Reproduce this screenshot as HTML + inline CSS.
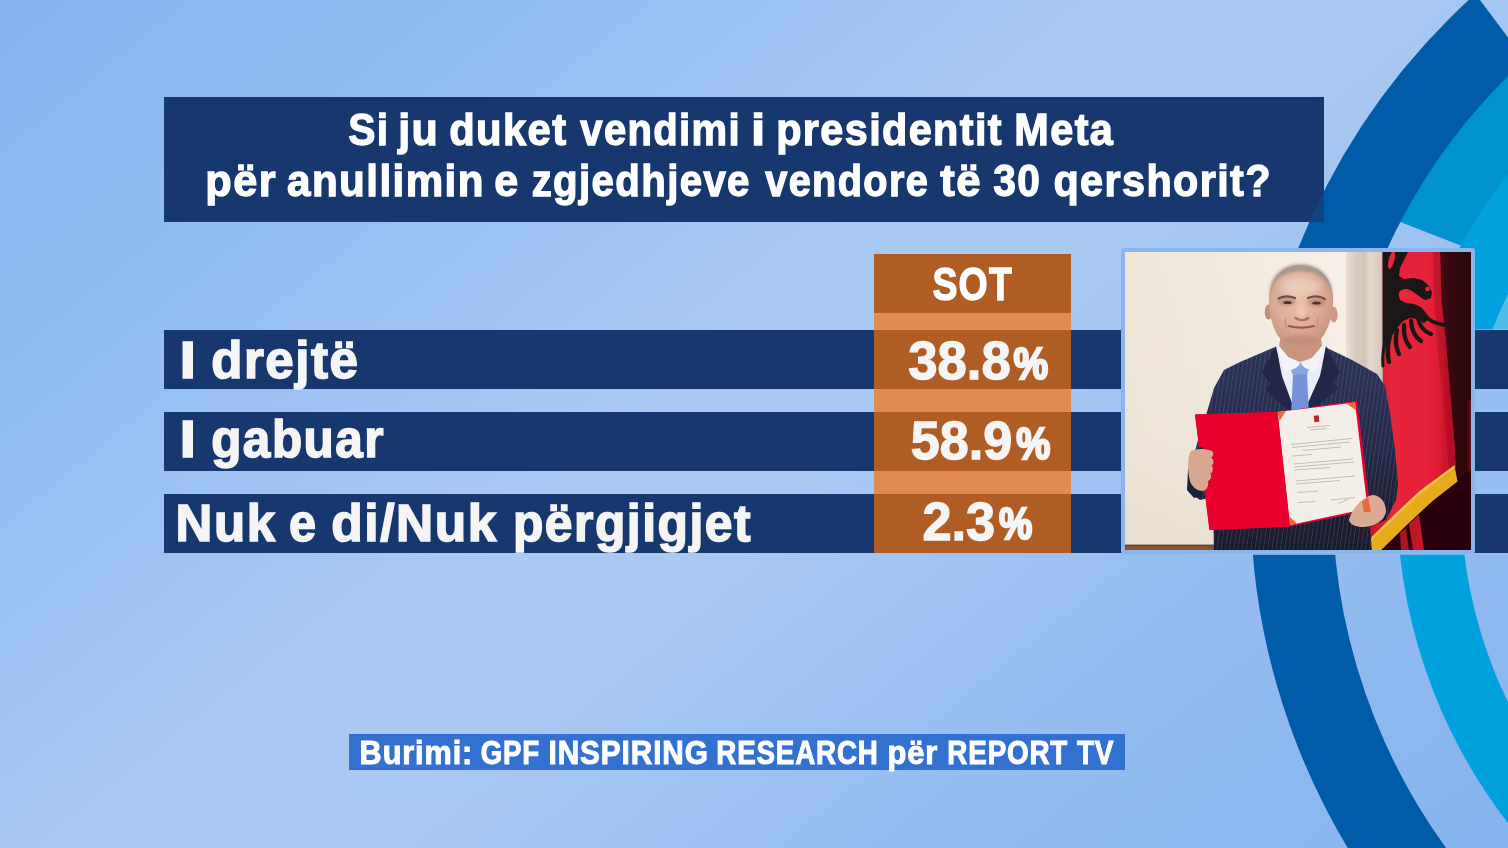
<!DOCTYPE html>
<html lang="sq">
<head>
<meta charset="utf-8">
<title>Sondazh</title>
<style>
html,body{margin:0;padding:0;}
html{background:#9cc1f1;}
body{width:1508px;height:848px;overflow:hidden;position:relative;
  font-family:"Liberation Sans",sans-serif;font-weight:bold;color:#fff;
  background:#9cc1f1;}
#bg{position:absolute;left:0;top:0;width:1508px;height:848px;
  background:linear-gradient(141deg,#84b4f0 0%,#97bff1 25%,#a9c9f2 46%,#a9c9f2 54%,#96bdf0 75%,#86b3ee 100%);}
#arcs{position:absolute;left:0;top:0;width:1508px;height:848px;}
.abs{position:absolute;}
.navy{background:#17386e;}
.t{position:absolute;left:0;top:0;white-space:nowrap;transform-origin:0 0;line-height:1;
  -webkit-text-stroke-color:currentColor;}
.w{position:absolute;left:0;top:0;transform-origin:0 0;white-space:nowrap;}
</style>
</head>
<body>

<div id="bg"></div>
<svg id="arcs" viewBox="0 0 1508 848">
  <defs>
    <clipPath id="cA"><path d="M1396 -112.8 L2040 752 L2040 1500 L0 1500 L0 -112.8 Z"/></clipPath>
    <clipPath id="cB"><path d="M1276.9 174 L1585.4 294 L1585.4 -100 L1276.9 -100 Z"/></clipPath>
    <clipPath id="cC"><rect x="1400" y="0" width="108" height="330"/></clipPath>
  </defs>
  <circle cx="1928" cy="498" r="467.5" fill="#4dbce6" clip-path="url(#cC)"/>
  <circle cx="1928" cy="498" r="499" fill="none" stroke="#00a1de" stroke-width="64"/>
  <circle cx="1928" cy="498" r="563.5" fill="none" stroke="#0091cf" stroke-width="66" clip-path="url(#cB)"/>
  <circle cx="1928" cy="498" r="636.5" fill="none" stroke="#005ca9" stroke-width="82" clip-path="url(#cA)"/>
  <rect x="1121" y="329.5" width="387" height="225.25" fill="#97bff1"/>
</svg>

<div class="abs navy" style="left:164px;top:97px;width:1160px;height:125px"></div>
<svg class="abs" id="ov" style="left:0;top:0;width:1508px;height:848px" viewBox="0 0 1508 848">
  <defs><clipPath id="cT"><rect x="164" y="97" width="1160" height="125"/></clipPath></defs>
  <circle cx="1928" cy="498" r="636.5" fill="none" stroke="#005ca9" stroke-width="82" opacity=".3" clip-path="url(#cT)"/>
</svg>
<div class="abs navy" style="left:164px;top:329.5px;width:1344px;height:59.25px"></div>
<div class="abs navy" style="left:164px;top:411.5px;width:1344px;height:59.25px"></div>
<div class="abs navy" style="left:164px;top:493.5px;width:1344px;height:59px"></div>

<div class="abs" style="left:873.5px;top:253.75px;width:197px;height:298.75px;background:#e08b52"></div>
<div class="abs" style="left:873.5px;top:253.75px;width:197px;height:59.25px;background:#b05c25"></div>
<div class="abs" style="left:873.5px;top:329.5px;width:197px;height:59.25px;background:#b05c25"></div>
<div class="abs" style="left:873.5px;top:411.5px;width:197px;height:59.25px;background:#b05c25"></div>
<div class="abs" style="left:873.5px;top:493.5px;width:197px;height:59px;background:#b05c25"></div>

<div class="abs" style="left:349.25px;top:734px;width:775.75px;height:35.75px;background:#3371d1"></div>

<div class="abs" id="frame" style="left:1121px;top:248px;width:354px;height:305.5px;background:#8ab6ee;border-radius:3px"></div>

<svg class="abs" id="photo" style="left:1125px;top:252px;width:346px;height:297.5px" viewBox="1125 252 346 297.5" preserveAspectRatio="none">
  <defs>
    <linearGradient id="pbg" x1="0" y1="0" x2="1" y2="0">
      <stop offset="0" stop-color="#efe6d9"/><stop offset=".35" stop-color="#f3ebe0"/><stop offset=".62" stop-color="#f7f0e8"/><stop offset="1" stop-color="#f2eae0"/>
    </linearGradient>
    <linearGradient id="pbgv" x1="0" y1="0" x2="0" y2="1"><stop offset="0" stop-color="#e2d6c6" stop-opacity="0"/><stop offset=".6" stop-color="#e2d6c6" stop-opacity=".12"/><stop offset="1" stop-color="#e0d2c2" stop-opacity=".45"/></linearGradient>
    <linearGradient id="pwall" x1="0" y1="0" x2="1" y2="0">
      <stop offset="0" stop-color="#ebe2d7"/><stop offset=".22" stop-color="#d9cdc0"/><stop offset=".5" stop-color="#d3c6b8"/><stop offset=".62" stop-color="#e3d9cd"/><stop offset=".9" stop-color="#d8ccbf"/><stop offset="1" stop-color="#b9a898"/>
    </linearGradient>
    <linearGradient id="pflag" x1="0" y1="0" x2="1" y2="0">
      <stop offset="0" stop-color="#c4142a"/><stop offset=".3" stop-color="#e6263a"/><stop offset=".75" stop-color="#e41f36"/><stop offset="1" stop-color="#b41026"/>
    </linearGradient>
    <linearGradient id="pcurt" x1="0" y1="0" x2="1" y2="0">
      <stop offset="0" stop-color="#4a0c16"/><stop offset=".4" stop-color="#35080f"/><stop offset="1" stop-color="#2c060c"/>
    </linearGradient>
    <radialGradient id="pskin" cx=".45" cy=".38" r=".7">
      <stop offset="0" stop-color="#e9c4b0"/><stop offset=".55" stop-color="#dcab95"/><stop offset="1" stop-color="#c08b76"/>
    </radialGradient>
    <linearGradient id="psuit" x1="0" y1="0" x2="0" y2="1">
      <stop offset="0" stop-color="#2d3458"/><stop offset=".45" stop-color="#272b4a"/><stop offset=".8" stop-color="#1d1f33"/><stop offset="1" stop-color="#191a28"/>
    </linearGradient>
    <pattern id="pstripe" width="4.2" height="8" patternUnits="userSpaceOnUse" patternTransform="rotate(8)">
      <rect width="4.2" height="8" fill="none"/><rect x="0" width="0.7" height="8" fill="#8890c0" opacity=".3"/>
    </pattern>
    <filter id="pb1" x="-5%" y="-5%" width="110%" height="110%"><feGaussianBlur stdDeviation="0.7"/></filter>
    <filter id="pb2" x="-20%" y="-20%" width="140%" height="140%"><feGaussianBlur stdDeviation="1.6"/></filter>
    <filter id="pb3" x="-30%" y="-30%" width="160%" height="160%"><feGaussianBlur stdDeviation="3"/></filter>
  </defs>
  <!-- wall -->
  <rect x="1125" y="252" width="346" height="297.5" fill="url(#pbg)"/>
  <rect x="1125" y="252" width="225" height="297.5" fill="url(#pbgv)"/>
  <rect x="1346" y="252" width="38" height="297.5" fill="url(#pwall)" filter="url(#pb1)"/>
  <!-- floor -->
  <rect x="1125" y="545.3" width="90" height="5" fill="#8a5330"/>
  <rect x="1125" y="544.6" width="90" height="1.6" fill="#6f4220"/>
  <!-- curtain + flag -->
  <rect x="1436" y="252" width="36" height="298" fill="url(#pcurt)"/>
  <rect x="1468.5" y="400" width="3" height="150" fill="#a8162a" opacity=".45" filter="url(#pb1)"/>
  <g filter="url(#pb1)">
    <path d="M1382.6 250 L1440 250 L1441.500 300 L1446 342 L1450 390 L1454 437 L1456 468 L1419.300 495 L1394.200 519 L1370.400 541.500 L1366 552 L1371 470 L1383 420 Z" fill="url(#pflag)"/>
    <path d="M1440 250 L1441.500 300 L1446 342 L1450 390 L1454 437 L1456 468 L1449 472 L1444 410 L1437 340 L1434 290 L1433 250 Z" fill="#a80c22" opacity=".5"/>
    <!-- dark area below fringe -->
    <path d="M1457 478 L1472 470 L1472 552 L1378 552 L1390 540 L1420 512 Z" fill="#2a060a"/>
    <path d="M1409 524 L1419 515 L1424 550 L1413 550 Z" fill="#c0182c"/>
    <path d="M1400 533 L1406 528 L1409 550 L1401 550 Z" fill="#a81424"/>
    <!-- fringe -->
    <path d="M1455 468.500 L1457.500 481.500 L1431.800 501.500 L1406.700 525 L1381.700 549.600 L1379 552 L1366 552 L1370.400 541.400 L1394.200 518.900 L1419.300 495 Z" fill="#e6ac1c"/>
    <path d="M1455 468.500 L1419.300 495 L1394.200 518.900 L1370.400 541.400 L1372 536.500 L1394 515 L1419 491.500 L1454.500 465 Z" fill="#f0c23a"/>
  </g>
  <!-- eagle -->
  <g fill="#1e1617" filter="url(#pb1)">
    <path d="M1382.6 250 L1409 250 L1405 258 L1400 268 L1399 276 L1404 279 L1414 278 L1422 280 L1428 285 L1432 292 L1431 298 L1426 300 L1419 298 L1411 293 L1404 291 L1400 294 L1400 300 L1406 303 L1414 304 L1421 307 L1426 313 L1428 320 L1424 323 L1417 319 L1410 318 L1403 321 L1397 328 L1392 336 L1388 344 L1383.500 350 L1382.6 350 Z"/>
  </g>
  <g fill="none" stroke="#1e1617" stroke-linecap="round" filter="url(#pb1)">
    <path d="M1424 314 Q1430 323 1444 325" stroke-width="3.8"/>
    <path d="M1418 318 Q1420 330 1431 334" stroke-width="4.3"/>
    <path d="M1411 321 Q1412 335 1421 341" stroke-width="4.3"/>
    <path d="M1404 325 Q1403 339 1410 347" stroke-width="4.3"/>
    <path d="M1397 330 Q1394 344 1399 354" stroke-width="4.3"/>
    <path d="M1390 336 Q1386 350 1389 362" stroke-width="4.3"/>
    <path d="M1384.500 344 Q1382 356 1383 366" stroke-width="3"/>
  </g>
  <g fill="#e8283e" filter="url(#pb1)">
    <ellipse cx="1391.500" cy="260" rx="2.800" ry="9" transform="rotate(14 1391.500 260)"/>
    <path d="M1400 291 Q1405 287.500 1411 290.500 Q1418 294.500 1425 301 Q1417 300 1411 297.500 Q1405 302.500 1400 299 Q1397.500 295 1400 291 Z"/>
    <circle cx="1427.500" cy="289" r="2.300"/>
  </g>
  <!-- man: suit -->
  <g filter="url(#pb1)">
    <path d="M1275 347 L1240 362 L1224 370 L1214 388 L1207 412 L1198 440 L1190 470 L1189 492 L1200 500 L1213 497 L1214 552 L1372 552 L1370 527 L1386 520 L1396 500 L1398 484 L1395 450 L1390 413 L1385 386 L1377 374 L1352 360 L1325 347 L1318 370 L1300 392 L1284 372 Z" fill="url(#psuit)"/>
    <path d="M1275 347 L1240 362 L1224 370 L1214 388 L1207 412 L1198 440 L1190 470 L1189 492 L1200 500 L1213 497 L1214 552 L1372 552 L1370 527 L1386 520 L1396 500 L1398 484 L1395 450 L1390 413 L1385 386 L1377 374 L1352 360 L1325 347 L1318 370 L1300 392 L1284 372 Z" fill="url(#pstripe)"/>
    <!-- shirt -->
    <path d="M1277 346 L1283 340 L1322 340 L1326 346 L1322 372 L1310 400 L1304 414 L1294 414 L1288 396 L1280 372 Z" fill="#e9edf6"/>
    <!-- lapels -->
    <path d="M1276 346 L1262 372 L1270 384 L1266 390 L1292 414 L1296 414 L1282 376 Z" fill="#23284a"/>
    <path d="M1326 346 L1340 372 L1333 382 L1338 388 L1308 414 L1303 414 L1320 376 Z" fill="#23284a"/>
    <!-- tie -->
    <path d="M1289 364 L1311 363 L1307 374 L1309 414 L1291 414 L1293 375 Z" fill="#7392da"/>
    <path d="M1289 364 L1311 363 L1307 374 L1293 375 Z" fill="#8aa4e4"/>
  </g>
  <!-- neck + head -->
  <g filter="url(#pb1)">
    <path d="M1282 330 L1320 330 L1322 346 L1312 358 L1300 362 L1288 357 L1279 346 Z" fill="#c9957e"/>
    <path d="M1279 346 L1288 357 L1300 364 L1296 368 L1286 372 L1278 352 Z" fill="#f1f3f9"/>
    <path d="M1322 346 L1312 358 L1301 364 L1305 368 L1316 372 L1324 352 Z" fill="#f1f3f9"/>
    <ellipse cx="1268.500" cy="312" rx="3.800" ry="7.500" fill="#c58d77"/>
    <ellipse cx="1333.800" cy="314.500" rx="3.800" ry="8" fill="#cf9a84"/>
    <path d="M1300.500 265 C1319 265 1331 277 1333 296 C1334 310 1330 326 1323 336 C1317 344 1308 347.500 1300 347.500 C1292 347.500 1284 344 1278 336 C1272 327 1268 310 1269 296 C1271 277 1283 265 1300.500 265 Z" fill="url(#pskin)"/>
  </g>
  <!-- hair -->
  <path d="M1269.500 298 C1268 279 1280 264 1300.500 264 C1321 264 1334 279 1332.500 298 C1330.500 283 1321 271.500 1300.500 271 C1280 271.500 1271.500 283 1269.500 298 Z" fill="#9a918a" opacity=".8" filter="url(#pb2)"/>
  <!-- face features -->
  <ellipse cx="1287" cy="301.500" rx="9" ry="4.500" fill="#a87864" opacity=".55" filter="url(#pb2)"/>
  <ellipse cx="1316.500" cy="302" rx="9" ry="4.500" fill="#a87864" opacity=".55" filter="url(#pb2)"/>
  <ellipse cx="1301" cy="286" rx="20" ry="8" fill="#f0d6c8" opacity=".6" filter="url(#pb3)"/>
  <ellipse cx="1301.500" cy="311" rx="4.500" ry="7" fill="#edccbc" opacity=".7" filter="url(#pb2)"/>
  <g filter="url(#pb1)">
    <path d="M1278.500 298.500 Q1286 294.500 1295 298" stroke="#6e5044" stroke-width="2.200" fill="none" stroke-linecap="round"/>
    <path d="M1308 298 Q1317 294.500 1325 299" stroke="#6e5044" stroke-width="2.200" fill="none" stroke-linecap="round"/>
    <ellipse cx="1287.500" cy="302.500" rx="4.300" ry="1.600" fill="#4a342c"/>
    <ellipse cx="1316.500" cy="303" rx="4.300" ry="1.600" fill="#4a342c"/>
    <path d="M1295.500 318 Q1302 322.500 1308.500 318" stroke="#a66e5c" stroke-width="2.200" fill="none" stroke-linecap="round"/>
    <path d="M1288.500 326 Q1301 329.500 1314 326" stroke="#9c544a" stroke-width="1.900" fill="none" stroke-linecap="round"/>
    <path d="M1286 318 Q1284 324 1287 329" stroke="#b88672" stroke-width="1.200" fill="none" opacity=".7"/>
    <path d="M1317 318 Q1319 324 1316 329" stroke="#b88672" stroke-width="1.200" fill="none" opacity=".7"/>
  </g>
  <ellipse cx="1300" cy="340" rx="16" ry="5" fill="#b9846e" opacity=".5" filter="url(#pb2)"/>
  <!-- folder -->
  <g filter="url(#pb1)">
    <path d="M1195 414.500 L1277.500 412 L1357 400.500 L1370.500 510 L1290 526.500 L1209.500 530 Z" fill="#e60030"/>
    <path d="M1277.500 412 L1355 402.500 L1367.500 508.500 L1290 525 Z" fill="#f3efe8"/>
    <path d="M1277.500 412 L1286 411 L1279.500 421 Z" fill="#ec6a38"/>
    <path d="M1346 403.500 L1355 402.500 L1356 410 Z" fill="#ec6a38"/>
    <path d="M1289 516 L1297 523.500 L1290 525 Z" fill="#ec6a38"/>
    <path d="M1367.500 508.500 L1360 510 L1366.500 502 Z" fill="#ec6a38"/>
    <path d="M1195 414.500 L1277.500 412 L1290 526.500 L1209.500 530 Z" fill="#e8002e"/>
  </g>
  <!-- hands -->
  <g filter="url(#pb1)">
    <path d="M1188 470 L1193 452 L1201 447 L1206 450 L1198 470 L1202 496 L1194 498 L1187 490 Z" fill="#1f2238"/>
    <path d="M1190 452 C1194 448 1205 448.500 1211 450.500 C1214 452 1214 456 1211 457.500 C1214 459 1214.500 464 1211.500 465.500 C1213.500 467.500 1213.500 472 1210.500 473.500 C1212 476 1211 480 1208 481 C1209 485 1207 490 1203 491 C1197 491 1192 487 1190 481 C1187.500 472 1187.500 460 1190 452 Z" fill="#d9a690"/>
    <path d="M1349 520 C1352 508 1362 498 1372 495 C1381 495 1386 503 1386 512 C1384 522 1372 528 1360 527 C1354 526 1350 524 1349 520 Z" fill="#dcab96"/>
    <path d="M1362 502 L1368 497 L1371 512 L1364 512 Z" fill="#e8683c"/>
  </g>
  <!-- document text -->
  <g stroke="#8a8684" stroke-width=".7" opacity=".7" fill="none">
    <path d="M1307 427.500 L1330 425.500 M1310 430 L1327 428.500"/>
    <path d="M1291 444.500 L1352 438.500 M1292 447.500 L1350 442 M1303 450.500 L1341 447"/>
    <path d="M1292 456 L1312 454.500"/>
    <path d="M1293.500 464 L1353 459 M1294 467 L1354 462 M1294 470 L1330 467.500"/>
    <path d="M1295.500 481 L1355 476 M1296 484 L1340 480.500"/>
    <path d="M1297 492.500 L1318 491"/>
    <path d="M1297.500 502.500 L1315 501.500 M1331 500 L1355 497.500 M1338 503.500 L1348 499.500"/>
  </g>
  <rect x="1314" y="415.500" width="5" height="6.500" fill="#c8202c" transform="rotate(-5 1316 418)"/>
</svg>

<div class="t" id="t1" style="font-size:44.0px;letter-spacing:1.5px;-webkit-text-stroke-width:1.3px;color:#fff;transform:translateY(107.57px)"><span class="w" id="t1w0" style="transform:translate(348.26px,0.00px) scaleX(0.9257)">Si</span> <span class="w" id="t1w1" style="transform:translate(398.21px,0.00px) scaleX(0.9744)">ju</span> <span class="w" id="t1w2" style="transform:translate(449.25px,0.00px) scaleX(0.9469)">duket</span> <span class="w" id="t1w3" style="transform:translate(580.35px,0.00px) scaleX(0.9084)">vendimi</span> <span class="w" id="t1w4" style="transform:translate(750.92px,0.00px) scaleX(1.1632)">i</span> <span class="w" id="t1w5" style="transform:translate(776.16px,0.00px) scaleX(0.9397)">presidentit</span> <span class="w" id="t1w6" style="transform:translate(1014.26px,0.00px) scaleX(0.9417)">Meta</span></div>
<div class="t" id="t2" style="font-size:44.0px;letter-spacing:1.5px;-webkit-text-stroke-width:1.3px;color:#fff;transform:translateY(159.13px)"><span class="w" id="t2w0" style="transform:translate(205.30px,0.00px) scaleX(0.9838)">për</span> <span class="w" id="t2w1" style="transform:translate(287.01px,0.00px) scaleX(0.9577)">anullimin</span> <span class="w" id="t2w2" style="transform:translate(494.27px,0.00px) scaleX(0.9766)">e</span> <span class="w" id="t2w3" style="transform:translate(531.66px,0.00px) scaleX(0.9133)">zgjedhjeve</span> <span class="w" id="t2w4" style="transform:translate(765.18px,0.00px) scaleX(0.9028)">vendore</span> <span class="w" id="t2w5" style="transform:translate(940.24px,0.00px) scaleX(0.9925)">të</span> <span class="w" id="t2w6" style="transform:translate(993.36px,0.00px) scaleX(0.9229)">30</span> <span class="w" id="t2w7" style="transform:translate(1053.43px,0.00px) scaleX(0.9395)">qershorit?</span></div>
<div class="t" id="r1" style="font-size:52.6px;letter-spacing:1.6px;-webkit-text-stroke-width:1.6px;color:#f5f5f5;transform:translateY(333.73px)"><span class="w" id="r1w0" style="transform:translate(179.55px,0.00px) scaleX(1.1352)">I</span> <span class="w" id="r1w1" style="transform:translate(211.20px,0.00px) scaleX(0.9703)">drejtë</span></div>
<div class="t" id="r2" style="font-size:52.6px;letter-spacing:1.6px;-webkit-text-stroke-width:1.6px;color:#f5f5f5;transform:translateY(412.83px)"><span class="w" id="r2w0" style="transform:translate(179.55px,0.00px) scaleX(1.1352)">I</span> <span class="w" id="r2w1" style="transform:translate(211.15px,0.00px) scaleX(0.9406)">gabuar</span></div>
<div class="t" id="r3" style="font-size:52.6px;letter-spacing:1.6px;-webkit-text-stroke-width:1.6px;color:#f5f5f5;transform:translateY(496.73px)"><span class="w" id="r3w0" style="transform:translate(175.53px,0.00px) scaleX(0.9700)">Nuk</span> <span class="w" id="r3w1" style="transform:translate(288.97px,0.00px) scaleX(0.9235)">e</span> <span class="w" id="r3w2" style="transform:translate(331.31px,0.00px) scaleX(0.9783)">di/Nuk</span> <span class="w" id="r3w3" style="transform:translate(512.95px,0.00px) scaleX(0.9460)">përgjigjet</span></div>
<div class="t" id="h1" style="font-size:45.6px;letter-spacing:1.5px;-webkit-text-stroke-width:1.3px;color:#fff;transform:translateY(261.70px)"><span class="w" id="h1w0" style="transform:translate(932.40px,0.00px) scaleX(0.8218)">SOT</span></div>
<div class="t" id="v1" style="font-size:54.3px;letter-spacing:0px;-webkit-text-stroke-width:1.3px;color:#f5f5f5;transform:translateY(334.47px)"><span class="w" id="v1w0" style="transform:translate(908.25px,0.00px) scaleX(0.9700)">38.8</span><span class="w" id="v1w1" style="font-size:81.63%;-webkit-text-stroke-width:2.4px;transform:translate(1013.55px,7.55px) scaleX(0.8791)">%</span></div>
<div class="t" id="v2" style="font-size:54.3px;letter-spacing:0px;-webkit-text-stroke-width:1.3px;color:#f5f5f5;transform:translateY(414.02px)"><span class="w" id="v2w0" style="transform:translate(910.77px,0.00px) scaleX(0.9592)">58.9</span><span class="w" id="v2w1" style="font-size:81.63%;-webkit-text-stroke-width:2.4px;transform:translate(1016.21px,7.80px) scaleX(0.8657)">%</span></div>
<div class="t" id="v3" style="font-size:54.3px;letter-spacing:0px;-webkit-text-stroke-width:1.3px;color:#f5f5f5;transform:translateY(494.86px)"><span class="w" id="v3w0" style="transform:translate(922.41px,0.00px) scaleX(0.9645)">2.3</span><span class="w" id="v3w1" style="font-size:81.63%;-webkit-text-stroke-width:2.4px;transform:translate(998.90px,6.93px) scaleX(0.8446)">%</span></div>
<div class="t" id="s1" style="font-size:33.0px;letter-spacing:1.0px;-webkit-text-stroke-width:1.0px;color:#fff;transform:translateY(735.50px)"><span class="w" id="s1w0" style="transform:translate(359.62px,0.00px) scaleX(0.9275)">Burimi:</span> <span class="w" id="s1w1" style="transform:translate(480.67px,0.00px) scaleX(0.8394)">GPF</span> <span class="w" id="s1w2" style="transform:translate(548.45px,0.00px) scaleX(0.9024)">INSPIRING</span> <span class="w" id="s1w3" style="transform:translate(716.27px,0.00px) scaleX(0.8407)">RESEARCH</span> <span class="w" id="s1w4" style="transform:translate(887.42px,0.00px) scaleX(0.9362)">për</span> <span class="w" id="s1w5" style="transform:translate(947.36px,0.00px) scaleX(0.8418)">REPORT</span> <span class="w" id="s1w6" style="transform:translate(1076.88px,0.00px) scaleX(0.8473)">TV</span></div>

</body>
</html>
